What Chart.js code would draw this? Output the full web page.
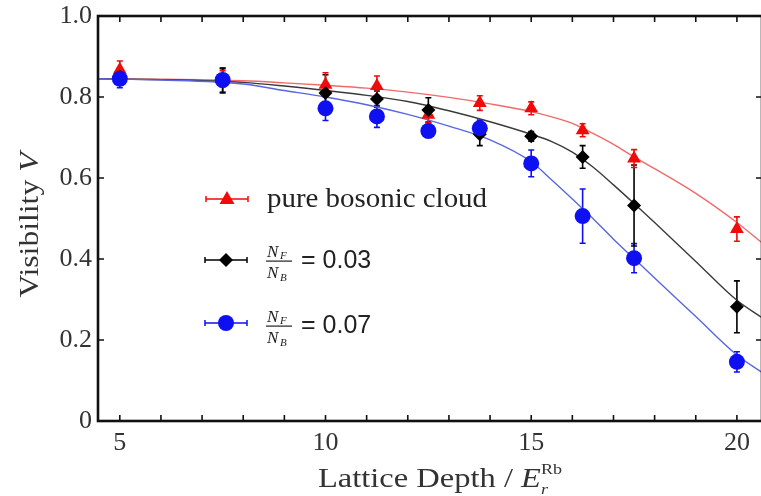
<!DOCTYPE html>
<html>
<head>
<meta charset="utf-8">
<script src="https://cdn.jsdelivr.net/npm/chart.js@4.4.0/dist/chart.umd.min.js"></script>
<style>
    html, body { margin: 0; padding: 0; background: #fff; overflow: hidden; }
    #wrap { width: 770px; height: 496px; }
</style>
</head>
<body>
<div id="wrap"><canvas id="chart" width="770" height="496"></canvas></div>
<script>
// measured points: lattice depth (E_r) vs visibility
const depths = [5, 7.5, 10, 11.25, 12.5, 13.75, 15, 16.25, 17.5, 20];

const bosonVis = [0.867, 0.845, 0.830, 0.827, 0.756, 0.785, 0.772, 0.718, 0.648, 0.474];
const bosonErr = [0.022, 0.020, 0.030, 0.025, 0.020, 0.018, 0.016, 0.016, 0.022, 0.030];

const mix03Vis = [0.850, 0.840, 0.810, 0.795, 0.768, 0.708, 0.703, 0.652, 0.532, 0.282];
const mix03Err = [0.020, 0.030, 0.045, 0.020, 0.030, 0.028, 0.012, 0.028, 0.100, 0.064];

const mix07Vis = [0.845, 0.842, 0.772, 0.752, 0.716, 0.723, 0.636, 0.506, 0.402, 0.146];
const mix07Err = [0.022, 0.030, 0.030, 0.027, 0.015, 0.020, 0.033, 0.067, 0.036, 0.025];

// fit curves
const fitDepths = [4.47, 6, 8, 9, 10, 11, 12, 13, 14, 15, 15.5, 16, 16.5, 17, 17.5, 18, 19, 20, 20.61];
const bosonFit = [0.845, 0.844, 0.840, 0.835, 0.829, 0.822, 0.812, 0.799, 0.783, 0.764, 0.751, 0.735, 0.710, 0.683, 0.652, 0.623, 0.562, 0.490, 0.440];
const mix03Fit = [0.845, 0.843, 0.836, 0.827, 0.816, 0.804, 0.789, 0.766, 0.739, 0.708, 0.690, 0.664, 0.627, 0.583, 0.537, 0.490, 0.394, 0.298, 0.255];
const mix07Fit = [0.845, 0.842, 0.832, 0.816, 0.800, 0.781, 0.757, 0.728, 0.694, 0.640, 0.595, 0.548, 0.500, 0.449, 0.401, 0.353, 0.258, 0.163, 0.120];

const xTickValues = [5, 6, 7, 8, 9, 10, 11, 12, 13, 14, 15, 16, 17, 18, 19, 20];
const yTickValues = [0, 0.2, 0.4, 0.6, 0.8, 1.0];

const RED = '#f00a0a';
const BLACK = '#000000';
const BLUE = '#0f10f2';
const SERIF = '"Liberation Serif", "DejaVu Serif", serif';

function toXY(xs, ys) {
    return xs.map((x, i) => ({ x: x, y: ys[i] }));
}

// 把一串文字片段横向拉伸到指定宽度 (Computer Modern 比 Times 宽)
function drawPieces(ctx, pieces, cx, baseline, width) {
    let total = 0;
    pieces.forEach((p) => {
        ctx.font = p.font;
        p.w = ctx.measureText(p.text).width;
        total += p.adv === false ? 0 : p.w;
    });
    const sx = width / total;
    ctx.save();
    ctx.translate(cx - width / 2, baseline);
    ctx.scale(sx, 1);
    let x = 0;
    pieces.forEach((p) => {
        ctx.font = p.font;
        ctx.fillText(p.text, x, p.dy || 0);
        if (p.adv !== false) x += p.w;
    });
    ctx.restore();
}

const errorBars = {
    id: 'errorBars',
    beforeDatasetsDraw(chart) {
        const ctx = chart.ctx;
        const xs = chart.scales.x, ys = chart.scales.y;
        chart.data.datasets.forEach((ds) => {
            if (!ds.errors) return;
            ctx.save();
            ctx.strokeStyle = ds.borderColor;
            ctx.lineWidth = 1.6;
            ds.data.forEach((p, i) => {
                const px = xs.getPixelForValue(p.x);
                const top = ys.getPixelForValue(p.y + ds.errors[i]);
                const bot = ys.getPixelForValue(p.y - ds.errors[i]);
                ctx.beginPath();
                ctx.moveTo(px, top); ctx.lineTo(px, bot);
                ctx.moveTo(px - 3, top); ctx.lineTo(px + 3, top);
                ctx.moveTo(px - 3, bot); ctx.lineTo(px + 3, bot);
                ctx.stroke();
            });
            ctx.restore();
        });
    }
};

function drawFraction(ctx, x, y) {
    // N_F over N_B
    ctx.save();
    ctx.fillStyle = '#222';
    ctx.textBaseline = 'alphabetic';
    ctx.textAlign = 'left';
    ctx.font = 'italic 17px ' + SERIF;
    ctx.fillText('N', x + 1, y - 4);
    ctx.fillText('N', x + 1, y + 17);
    ctx.font = 'italic 11px ' + SERIF;
    ctx.fillText('F', x + 14, y - 2);
    ctx.fillText('B', x + 14, y + 20);
    ctx.fillRect(x, y - 0.5, 26, 1.2);
    ctx.restore();
}

function legendMarker(ctx, x, y, color, shape) {
    ctx.save();
    ctx.strokeStyle = color;
    ctx.fillStyle = color;
    ctx.lineWidth = 1.5;
    ctx.beginPath();
    ctx.moveTo(x - 21, y); ctx.lineTo(x + 21, y);
    ctx.moveTo(x - 21, y - 3); ctx.lineTo(x - 21, y + 3);
    ctx.moveTo(x + 21, y - 3); ctx.lineTo(x + 21, y + 3);
    ctx.stroke();
    ctx.beginPath();
    if (shape === 'triangle') {
        ctx.moveTo(x, y - 8); ctx.lineTo(x + 7.5, y + 5); ctx.lineTo(x - 7.5, y + 5);
    } else if (shape === 'diamond') {
        ctx.moveTo(x, y - 7); ctx.lineTo(x + 7, y); ctx.lineTo(x, y + 7); ctx.lineTo(x - 7, y);
    } else {
        ctx.arc(x, y, 8, 0, Math.PI * 2);
    }
    ctx.closePath();
    ctx.fill();
    ctx.restore();
}

const frameAndText = {
    id: 'frameAndText',
    afterDraw(chart) {
        const ctx = chart.ctx;
        const a = chart.chartArea;
        const xs = chart.scales.x, ys = chart.scales.y;
        ctx.save();
        // frame
        ctx.strokeStyle = '#111';
        ctx.lineWidth = 2.6;
        ctx.strokeRect(a.left, a.top, a.right - a.left, a.bottom - a.top);
        // inward ticks
        ctx.lineWidth = 1.6;
        ctx.beginPath();
        xTickValues.forEach((v) => {
            const px = xs.getPixelForValue(v);
            ctx.moveTo(px, a.bottom); ctx.lineTo(px, a.bottom - 6);
            ctx.moveTo(px, a.top); ctx.lineTo(px, a.top + 6);
        });
        yTickValues.forEach((v) => {
            const py = ys.getPixelForValue(v);
            ctx.moveTo(a.left, py); ctx.lineTo(a.left + 6, py);
            ctx.moveTo(a.right, py); ctx.lineTo(a.right - 6, py);
        });
        ctx.stroke();

        // axis titles
        ctx.fillStyle = '#333';
        ctx.textBaseline = 'alphabetic';
        ctx.textAlign = 'left';
        ctx.save();
        ctx.translate(38, 225);
        ctx.rotate(-Math.PI / 2);
        drawPieces(ctx, [
            { text: 'Visibility ', font: '27px ' + SERIF },
            { text: 'V', font: 'italic 27px ' + SERIF }
        ], 0, 0, 145);
        ctx.restore();

        drawPieces(ctx, [
            { text: 'Lattice Depth / ', font: '27px ' + SERIF },
            { text: 'E', font: 'italic 27px ' + SERIF },
            { text: 'r', font: 'italic 15px ' + SERIF, dy: 7, adv: false },
            { text: 'Rb', font: '15px ' + SERIF, dy: -13 }
        ], 440, 487, 244);

        // legend
        legendMarker(ctx, 227, 199, RED, 'triangle');
        legendMarker(ctx, 226, 260, BLACK, 'diamond');
        legendMarker(ctx, 226, 323, BLUE, 'circle');
        ctx.fillStyle = '#222';
        drawPieces(ctx, [{ text: 'pure bosonic cloud', font: '27px ' + SERIF }], 377, 207, 220);
        drawFraction(ctx, 266, 261);
        drawFraction(ctx, 266, 326);
        ctx.font = '25px "Liberation Sans", Arial, sans-serif';
        ctx.fillText('= 0.03', 301, 268);
        ctx.fillText('= 0.07', 301, 333);
        ctx.restore();
    }
};

const ctx = document.getElementById('chart');
new Chart(ctx, {
    type: 'scatter',
    data: {
        datasets: [
            {
                label: 'NF/NB = 0.07',
                data: toXY(depths, mix07Vis),
                errors: mix07Err,
                borderColor: BLUE,
                backgroundColor: BLUE,
                pointStyle: 'circle',
                pointRadius: 8,
                pointBorderWidth: 0,
                showLine: false
            },
            {
                label: 'NF/NB = 0.03',
                data: toXY(depths, mix03Vis),
                errors: mix03Err,
                borderColor: BLACK,
                backgroundColor: BLACK,
                pointStyle: 'rectRot',
                pointRadius: 7,
                pointBorderWidth: 0,
                showLine: false
            },
            {
                label: 'pure bosonic cloud',
                data: toXY(depths, bosonVis),
                errors: bosonErr,
                borderColor: RED,
                backgroundColor: RED,
                pointStyle: 'triangle',
                pointRadius: 8,
                pointBorderWidth: 0,
                showLine: false
            },
            {
                label: 'fit 0.07',
                data: toXY(fitDepths, mix07Fit),
                borderColor: '#5866e0',
                borderWidth: 1.4,
                pointRadius: 0,
                showLine: true,
                cubicInterpolationMode: 'monotone'
            },
            {
                label: 'fit 0.03',
                data: toXY(fitDepths, mix03Fit),
                borderColor: '#3a3a3a',
                borderWidth: 1.4,
                pointRadius: 0,
                showLine: true,
                cubicInterpolationMode: 'monotone'
            },
            {
                label: 'fit boson',
                data: toXY(fitDepths, bosonFit),
                borderColor: '#f06a6a',
                borderWidth: 1.4,
                pointRadius: 0,
                showLine: true,
                cubicInterpolationMode: 'monotone'
            }
        ]
    },
    options: {
        responsive: false,
        animation: false,
        clip: false,
        layout: { padding: { left: 0, top: 16, right: 7, bottom: 0 } },
        plugins: {
            legend: { display: false },
            tooltip: { enabled: false }
        },
        scales: {
            x: {
                type: 'linear',
                min: 4.47,
                max: 20.61,
                afterBuildTicks: (scale) => {
                    scale.ticks = xTickValues.map((v) => ({ value: v }));
                },
                afterFit: (scale) => {
                    scale.height = 75;
                    scale.paddingLeft = 0;
                    scale.paddingRight = 0;
                },
                grid: { display: false, drawTicks: false },
                border: { display: false },
                ticks: {
                    padding: 7,
                    autoSkip: false,
                    maxRotation: 0,
                    color: '#333',
                    font: { family: SERIF, size: 26 },
                    callback: (v) => (v % 5 === 0 ? String(v) : '')
                }
            },
            y: {
                type: 'linear',
                min: 0,
                max: 1,
                afterBuildTicks: (scale) => {
                    scale.ticks = yTickValues.map((v) => ({ value: v }));
                },
                afterFit: (scale) => {
                    scale.width = 98;
                    scale.paddingTop = 0;
                    scale.paddingBottom = 0;
                },
                grid: { display: false, drawTicks: false },
                border: { display: false },
                ticks: {
                    padding: 6,
                    color: '#333',
                    font: { family: SERIF, size: 26 },
                    callback: (v) => (v === 0 ? '0' : v.toFixed(1))
                }
            }
        }
    },
    plugins: [errorBars, frameAndText]
});
</script>
</body>
</html>
